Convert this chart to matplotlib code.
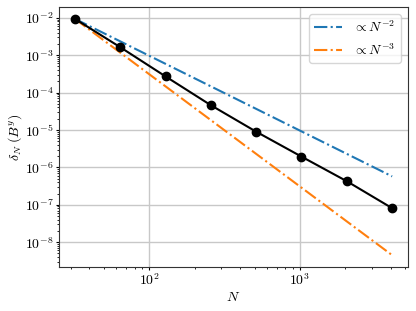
import numpy as np
import matplotlib
matplotlib.use("Agg")
import matplotlib.pyplot as plt

plt.rcParams['mathtext.fontset'] = 'cm'
plt.rcParams['font.family'] = 'serif'
plt.rcParams['font.serif'] = ['cmr10', 'DejaVu Serif']
plt.rcParams['axes.formatter.use_mathtext'] = True

N = [32, 64, 128, 256, 512, 1024, 2048, 4096]
delta = [9.4e-3, 1.64e-3, 2.71e-4, 4.6e-5, 9.0e-6, 1.94e-6, 4.26e-7, 8.1e-8]
ref_orders = [2, 3]
ref_labels = [r'$\propto N^{-2}$', r'$\propto N^{-3}$']
ref_colors = ['tab:blue', 'tab:orange']

fig = plt.figure(figsize=(4.16, 3.11), dpi=100)
ax = fig.add_axes([59/416, 1 - 267/311, (408-59)/416, (267-7)/311])

Na = np.array(N, dtype=float)
for p, lab, c in zip(ref_orders, ref_labels, ref_colors):
    ax.loglog(Na, delta[0] * (Na / Na[0]) ** (-p), '-.', color=c, label=lab, lw=1.5)
ax.loglog(N, delta, 'o-', color='black', ms=6, lw=1.5)

ax.grid(True, which='major', color='#c8c8c8', lw=1.0)
ax.set_axisbelow(True)
ax.tick_params(which='major', labelsize=10, length=2.5, pad=1.5)
ax.tick_params(which='minor', length=1.5)
ax.set_xlabel(r'$N$', fontsize=10, labelpad=2)
ax.set_ylabel(r'$\delta_N\;(B^y)$', fontsize=10, labelpad=0.5)
ax.legend(loc='upper right', fontsize=10, handlelength=2.0)
for s in ax.spines.values():
    s.set_color('#333333')

fig.savefig('out.png', dpi=100)
